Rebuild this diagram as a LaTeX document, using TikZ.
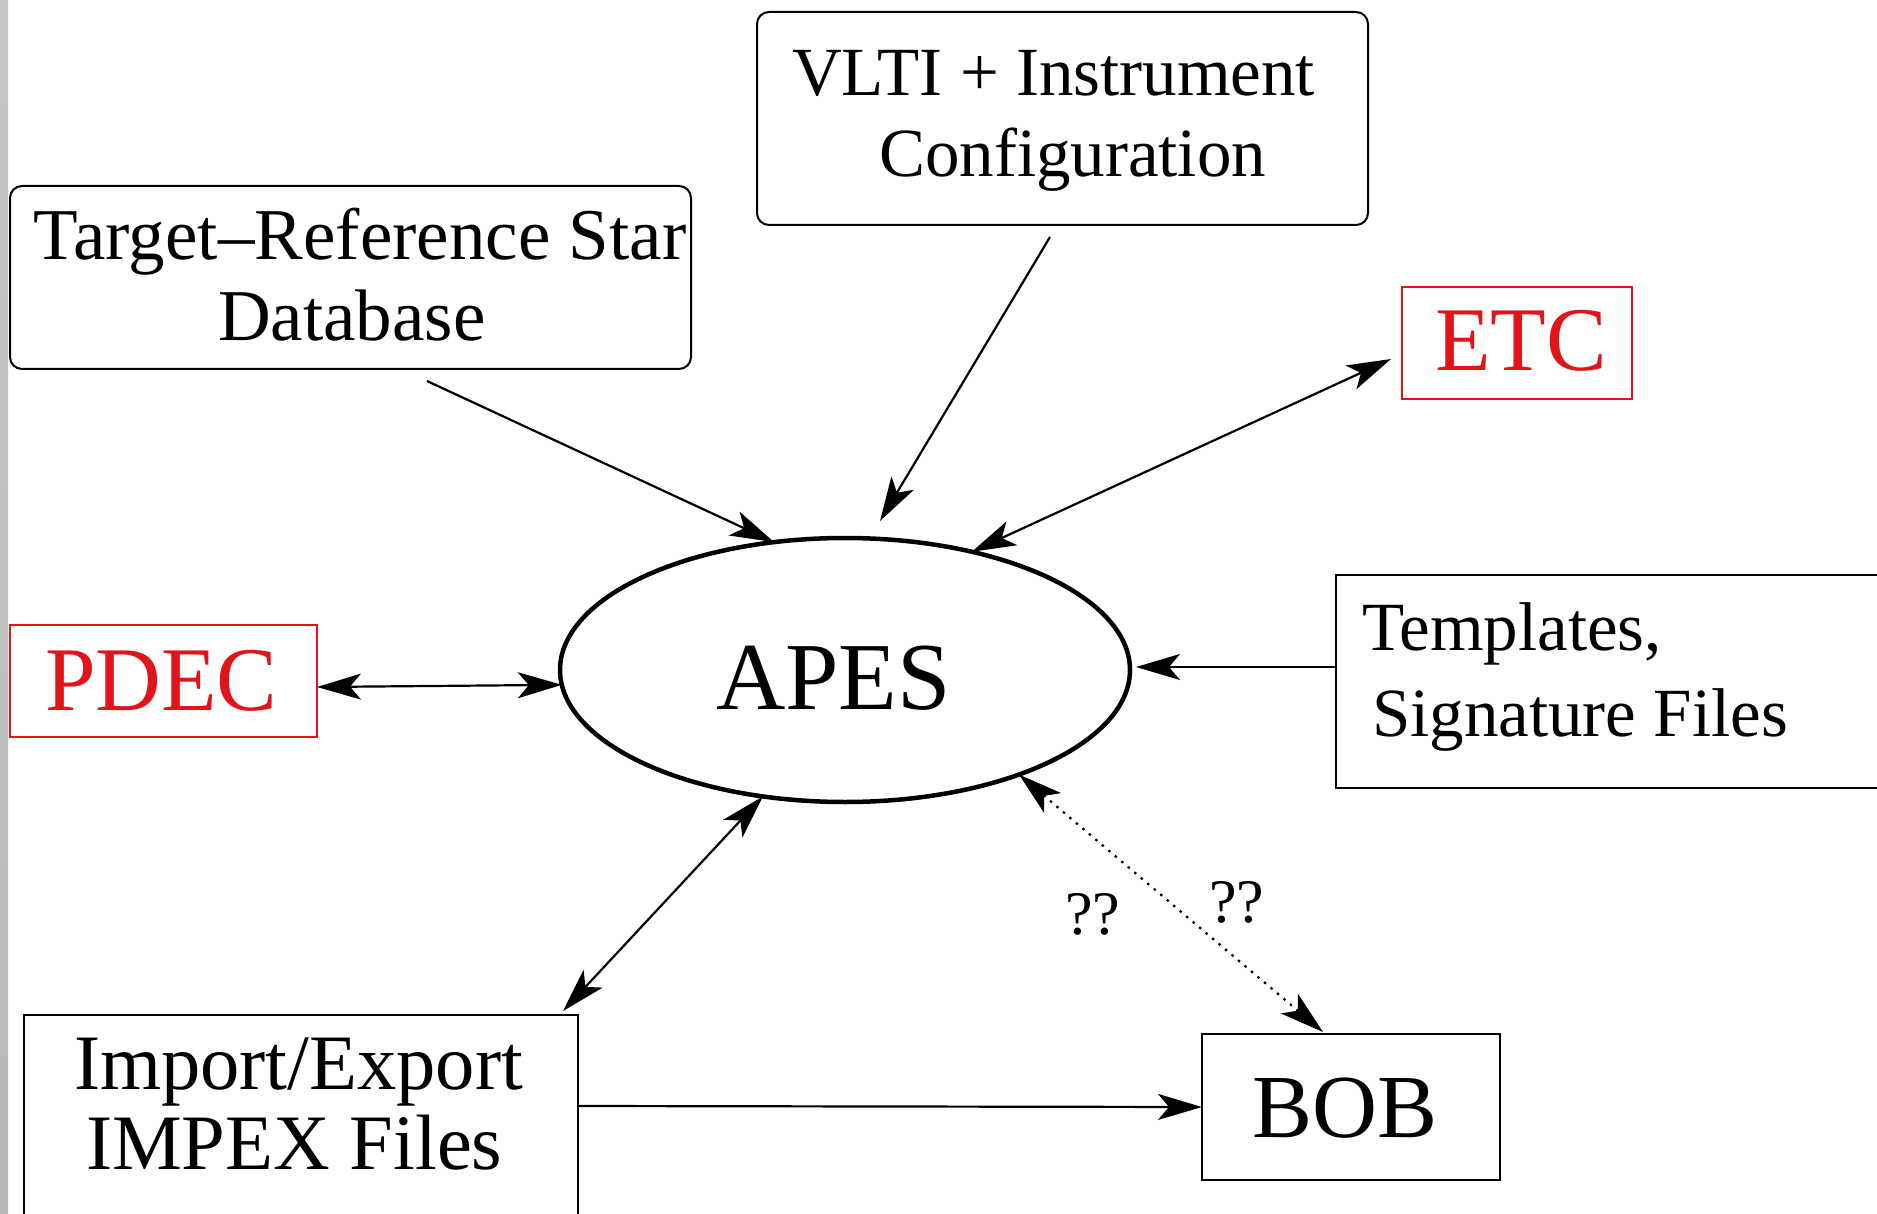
\documentclass[tikz,border=0pt]{standalone}
\usepackage{fontspec}
\setmainfont{Liberation Serif}
\usetikzlibrary{arrows.meta,shapes.geometric}
\definecolor{figred}{RGB}{225,20,25}
\newcommand\figsize[1]{\fontsize{#1pt}{#1pt}\selectfont}
\begin{document}
\begin{tikzpicture}[x=1pt,y=-1pt,
  box/.style={draw=black, line width=2pt, inner sep=0pt, outer sep=0pt},
  rbox/.style={box, rounded corners=12pt},
  redbox/.style={box, draw=figred},
  txt/.style={anchor=base west, inner sep=0pt, outer sep=0pt},
  link/.style={line width=2.2pt},
  oneway/.style={-{Stealth[length=44pt,width=26pt,inset=11pt]}},
  twoway/.style={{Stealth[length=44pt,width=26pt,inset=11pt]}-{Stealth[length=44pt,width=26pt,inset=11pt]}},
  dots/.style={dash pattern=on 2.5pt off 6pt}]

% page frame and the grey strip on the left edge
\clip (0,0) rectangle (1877,1214);
\fill[white] (0,0) rectangle (1877,1214);
\shade[top color=gray!45, middle color=gray!62, bottom color=gray!55] (0,0) rectangle (8,1214);

% boxes
\node[rbox, minimum width=681pt, minimum height=183pt] (tgt) at (350.5,277.5) {};
\node[rbox, minimum width=611pt, minimum height=213pt] (vlti) at (1062.5,118.5) {};
\node[redbox, minimum width=230pt, minimum height=112pt] (etc) at (1517,343) {};
\node[redbox, minimum width=307pt, minimum height=112pt] (pdec) at (163.5,681) {};
\node[box, minimum width=560pt, minimum height=213pt, anchor=north west] (tpl) at (1336,575) {};
\node[box, minimum width=554pt, minimum height=220pt, anchor=north west] (imp) at (24,1015) {};
\node[box, minimum width=298pt, minimum height=146pt] (bob) at (1351,1107) {};
\node[ellipse, draw, line width=4.5pt, minimum width=570pt, minimum height=264pt,
      inner sep=0pt, outer sep=0pt] (apes) at (845,670) {};

% texts
\node[txt, font=\figsize{73}] (tgt1) at (34,260) {Target–Reference Star};
\node[txt, font=\figsize{73}] (tgt2) at (218,341) {Database};
\node[txt, font=\figsize{69}] (vlti1) at (792,96) {VLTI + Instrument};
\node[txt, font=\figsize{69}] (vlti2) at (879,177) {Configuration};
\node[txt, font=\figsize{91}, text=figred] (etct) at (1435,371) {ETC};
\node[txt, font=\figsize{91}, text=figred] (pdect) at (45,710) {PDEC};
\node[txt, font=\figsize{96}] (apest) at (716,709) {APES};
\node[txt, font=\figsize{69}] (tpl1) at (1362,650) {Templates,};
\node[txt, font=\figsize{69}] (tpl2) at (1372,736) {Signature Files};
\node[txt, font=\figsize{78.5}] (imp1) at (74,1089) {Import/Export};
\node[txt, font=\figsize{78.5}] (imp2) at (86,1169) {IMPEX Files};
\node[txt, font=\figsize{90}] (bobt) at (1252,1137) {BOB};
\node[txt, font=\figsize{62}] (qa) at (1065,934) {??};
\node[txt, font=\figsize{62}] (qb) at (1209,922) {??};

% connectors
\draw[link, oneway] ([xshift=76.5pt,yshift=-12pt]tgt.south) -- (apes.119.7);
\draw[link, oneway] ([xshift=-12.5pt,yshift=-12pt]vlti.south) -- ([xshift=35pt,yshift=17pt]apes.north);
\draw[link, twoway] ([xshift=-11pt,yshift=-16pt]etc.west) -- (apes.43.1);
\draw[link, twoway] ([yshift=-6pt]pdec.east) -- (apes.183.2);
\draw[link, oneway] ([yshift=14.5pt]tpl.west) -- ([xshift=6pt,yshift=3pt]apes.east);
\draw[link, twoway] ([xshift=-15pt,yshift=4pt]imp.north east) -- (apes.237.5);
\draw[link, twoway, dots] (apes.-31) -- ([xshift=-28pt,yshift=2pt]bob.north);
\draw[link, oneway] ([yshift=-91pt]imp.north east) -- (bob.west);
\end{tikzpicture}
\end{document}
